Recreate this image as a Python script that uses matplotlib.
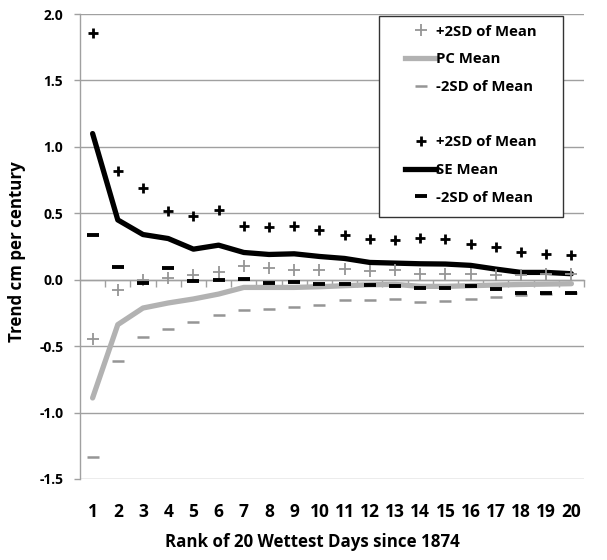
import matplotlib
matplotlib.use("Agg")
import matplotlib.pyplot as plt
from matplotlib.lines import Line2D
from matplotlib.patches import Rectangle

plt.rcParams['font.family'] = ['Open Sans', 'DejaVu Sans']
plt.rcParams['font.weight'] = 'bold'

ranks = list(range(1, 21))
se_mean = [1.10, 0.45, 0.34, 0.31, 0.23, 0.26, 0.205, 0.19, 0.195, 0.175,
           0.16, 0.13, 0.125, 0.12, 0.118, 0.108, 0.08, 0.055, 0.055, 0.045]
se_plus = [1.855, 0.815, 0.694, 0.519, 0.476, 0.521, 0.408, 0.396, 0.404, 0.376,
           0.338, 0.306, 0.30, 0.313, 0.308, 0.27, 0.246, 0.208, 0.195, 0.186]
se_minus = [0.338, 0.093, -0.025, 0.088, -0.012, 0.0, 0.005, -0.025, -0.02, -0.032,
            -0.03, -0.043, -0.05, -0.063, -0.065, -0.045, -0.07, -0.10, -0.10, -0.10]
pc_mean = [-0.89, -0.338, -0.213, -0.175, -0.145, -0.108, -0.058, -0.058, -0.058, -0.053,
           -0.045, -0.038, -0.035, -0.05, -0.05, -0.045, -0.04, -0.036, -0.033, -0.03]
pc_plus = [-0.45, -0.075, 0.0, 0.013, 0.033, 0.055, 0.105, 0.085, 0.075, 0.075,
           0.08, 0.068, 0.075, 0.045, 0.045, 0.045, 0.038, 0.038, 0.045, 0.045]
pc_minus = [-1.336, -0.614, -0.431, -0.371, -0.321, -0.268, -0.226, -0.218, -0.205, -0.193,
            -0.155, -0.155, -0.145, -0.168, -0.163, -0.143, -0.13, -0.113, -0.105, -0.10]

GRAY_M = '#959595'
GRAY_L = '#b2b2b2'
AX_GRAY = '#a0a0a0'

PCP = dict(ls='none', marker='+', ms=8, mew=1.3, color=GRAY_M)
PCM = dict(ls='none', marker='_', ms=8, mew=1.8, color=GRAY_M)
SEP = dict(ls='none', marker='+', ms=7, mew=2.0, color='black')
SEM = dict(ls='none', marker='_', ms=8, mew=2.8, color='black')

W, H = 607, 560
fig = plt.figure(figsize=(W/100, H/100), dpi=100)
ax = fig.add_axes([80/W, 1-479/H, (584-80)/W, (479-14)/H])

ax.set_xlim(0.5, 20.5)
ax.set_ylim(-1.5, 2.0)
yt = [-1.5, -1.0, -0.5, 0.0, 0.5, 1.0, 1.5, 2.0]
ax.set_yticks(yt)
ax.set_yticklabels([f"{v:.1f}" for v in yt], fontsize=10, fontweight='bold')
for v in yt:
    ax.axhline(v, color=AX_GRAY, lw=1.0, zorder=0)

ax.set_xticks(ranks)
ax.set_xticklabels([str(r) for r in ranks], fontsize=12.5, fontweight='bold')
ax.tick_params(axis='x', length=0, pad=17)
ax.tick_params(axis='y', length=4, color=AX_GRAY, width=1, pad=8)

for s in ['top', 'right', 'bottom']:
    ax.spines[s].set_visible(False)
ax.spines['left'].set_color(AX_GRAY)
ax.spines['left'].set_linewidth(1.0)

# category axis at y = 0 with boundary ticks
sec = ax.secondary_xaxis(0.0, transform=ax.transData)
sec.set_xticks([r + 0.5 for r in ranks])
sec.set_xticklabels([])
sec.tick_params(axis='x', direction='out', length=5, color=AX_GRAY, width=1)
sec.spines['bottom'].set_color(AX_GRAY)
sec.spines['bottom'].set_linewidth(1.0)

ax.plot(ranks, pc_mean, color=GRAY_L, lw=3.8, solid_capstyle='round', zorder=2)
ax.plot(ranks, se_mean, color='black', lw=3.8, solid_capstyle='round', zorder=3)
ax.plot(ranks, pc_plus, zorder=4, **PCP)
ax.plot(ranks, pc_minus, zorder=4, **PCM)
ax.plot(ranks, se_plus, zorder=5, **SEP)
ax.plot(ranks, se_minus, zorder=5, **SEM)

ax.set_ylabel("Trend cm per century", fontsize=12.2, fontweight='bold')
ax.yaxis.set_label_coords((17 - 80)/504, (479 - 252)/465)
ax.set_xlabel("Rank of 20 Wettest Days since 1874", fontsize=12.2, fontweight='bold')
ax.xaxis.set_label_coords((312 - 80)/504, (479 - 542)/465)
ax.xaxis.label.set_verticalalignment('center')
ax.yaxis.label.set_verticalalignment('center')

# legend frame
fig.patches.append(Rectangle((379/W, 1-217/H), 184/W, 201/H, transform=fig.transFigure,
                             facecolor='white', edgecolor='#333333', lw=1.0, zorder=1))

handles = [
    Line2D([], [], **PCP),
    Line2D([], [], color=GRAY_L, lw=3.8),
    Line2D([], [], **PCM),
    Line2D([], [], ls='none', marker='none'),
    Line2D([], [], **SEP),
    Line2D([], [], color='black', lw=3.8),
    Line2D([], [], **SEM),
]
labels = ["+2SD of Mean", "PC Mean", "-2SD of Mean", " ",
          "+2SD of Mean", "SE Mean", "-2SD of Mean"]
LFS = 10.7
fspx = LFS * 100 / 72
bp = 0.58
leg = fig.legend(handles, labels, loc='upper left',
                 bbox_to_anchor=((405 - bp*fspx)/W, 1-16/H), fontsize=LFS,
                 frameon=False, handlelength=2.1, handletextpad=0.0,
                 labelspacing=0.92, borderpad=bp, borderaxespad=0)
leg.set_zorder(6)
for t in leg.get_texts():
    t.set_fontweight('bold')

fig.savefig("out.png", dpi=100)
